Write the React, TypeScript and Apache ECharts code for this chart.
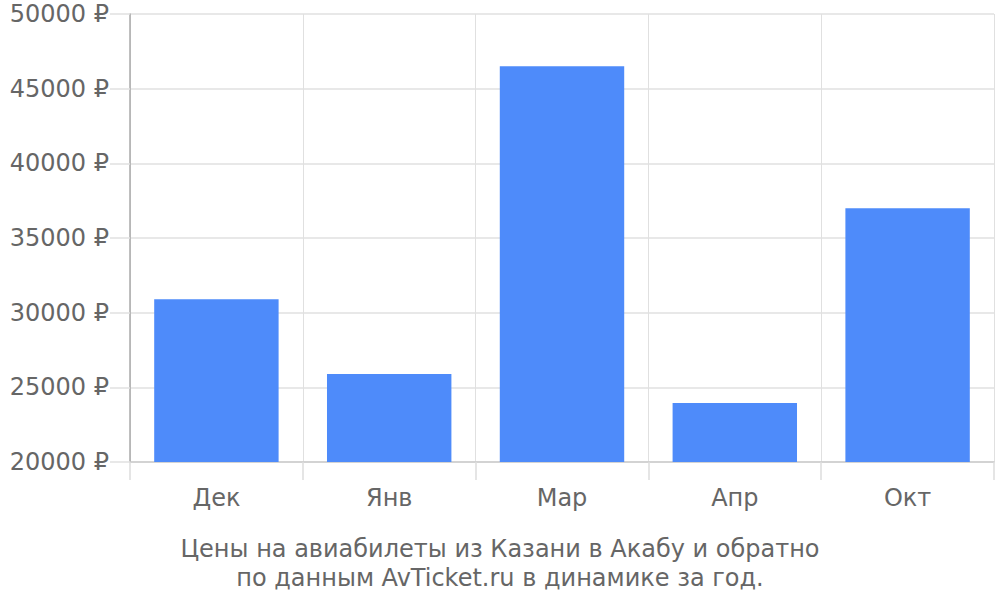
import React, { useEffect, useRef } from "react";
import * as echarts from "echarts";

const categories = ["Дек", "Янв", "Мар", "Апр", "Окт"];
const prices = [30900, 25900, 46500, 23950, 37000];
const titleLines = [
  "Цены на авиабилеты из Казани в Акабу и обратно",
  "по данным AvTicket.ru в динамике за год.",
];

export default function App() {
  const ref = useRef<HTMLDivElement>(null);
  useEffect(() => {
    if (!ref.current) return;
    const chart = echarts.init(ref.current, null, { renderer: "svg" });
    const font = "DejaVu Sans";
    chart.setOption({
      animation: false,
      textStyle: { fontFamily: font },
      title: {
        text: titleLines.join("\n"),
        left: "center",
        top: 529,
        textStyle: {
          fontFamily: font,
          fontSize: 24,
          fontWeight: "normal",
          color: "#666666",
          lineHeight: 29,
        },
      },
      grid: { left: 130, right: 6, top: 14, bottom: 138, containLabel: false },
      xAxis: {
        type: "category",
        data: categories,
        axisLine: { lineStyle: { color: "#cccccc", width: 1.5 } },
        axisTick: { show: true, length: 18, lineStyle: { color: "#dddddd", width: 1.5 } },
        splitLine: { show: true, lineStyle: { color: "#e0e0e0", width: 1 } },
        axisLabel: { fontFamily: font, fontSize: 24, color: "#666666", margin: 24 },
      },
      yAxis: {
        type: "value",
        min: 20000,
        max: 50000,
        interval: 5000,
        axisLine: { show: true, lineStyle: { color: "#aaaaaa", width: 1.5 } },
        axisTick: { show: true, length: 20, lineStyle: { color: "#e0e0e0", width: 1.5 } },
        splitLine: { show: true, lineStyle: { color: "#e0e0e0", width: 1.5 } },
        axisLabel: {
          fontFamily: font,
          fontSize: 24,
          color: "#666666",
          margin: 21,
          formatter: (v: number) => `${v} ₽`,
        },
      },
      series: [
        {
          type: "bar",
          data: prices,
          barCategoryGap: "28%",
          itemStyle: { color: "#4e8bfa" },
        },
      ],
    });
    return () => chart.dispose();
  }, []);
  return (
    <div
      ref={ref}
      style={{ position: "absolute", left: 0, top: 0, width: 1000, height: 600 }}
    />
  );
}
